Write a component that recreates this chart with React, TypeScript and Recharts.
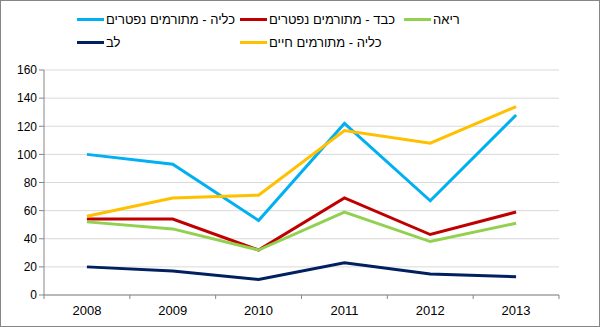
import React from "react";
import { LineChart, Line, XAxis, YAxis, CartesianGrid } from "recharts";

const years = ["2008", "2009", "2010", "2011", "2012", "2013"];
const kidneyDeceased = [100, 93, 53, 122, 67, 128];
const liverDeceased = [54, 54, 32, 69, 43, 59];
const lung = [52, 47, 32, 59, 38, 51];
const heart = [20, 17, 11, 23, 15, 13];
const kidneyLiving = [56, 69, 71, 117, 108, 134];
const yTicks = [0, 20, 40, 60, 80, 100, 120, 140, 160];

const series = [
  { key: "kidneyDeceased", name: "כליה - מתורמים נפטרים", color: "#00B0F0", values: kidneyDeceased },
  { key: "liverDeceased", name: "כבד - מתורמים נפטרים", color: "#C00000", values: liverDeceased },
  { key: "lung", name: "ריאה", color: "#92D050", values: lung },
  { key: "heart", name: "לב", color: "#002060", values: heart },
  { key: "kidneyLiving", name: "כליה - מתורמים חיים", color: "#FFC000", values: kidneyLiving },
];

const data = years.map((y, i) => {
  const row: any = { x: i, year: y };
  series.forEach((s) => (row[s.key] = s.values[i]));
  return row;
});

const xTicks: number[] = [];
for (let i = -0.5; i <= years.length - 0.5; i += 0.5) xTicks.push(i);

const FONT = "'Liberation Sans', Arial, sans-serif";

const XTick = (props: any) => {
  const { x, y, payload } = props;
  const v = payload.value;
  if (Math.abs(v - Math.round(v)) < 0.01) {
    return (
      <text x={x} y={y + 20} textAnchor="middle" fontSize={13} fontFamily={FONT} fill="#000">
        {years[Math.round(v)]}
      </text>
    );
  }
  return <line x1={x} y1={y} x2={x} y2={y + 4} stroke="#868686" strokeWidth={1} />;
};

const legendPos = [
  { left: 77, top: 19 },
  { left: 240, top: 19 },
  { left: 404, top: 19 },
  { left: 77, top: 42 },
  { left: 240, top: 42 },
];

const LegendBlock = () => (
  <div style={{ position: "absolute", left: 0, top: 0, width: 600, height: 60 }}>
    {series.map((s, i) => (
      <div
        key={s.key}
        style={{
          position: "absolute",
          left: legendPos[i].left,
          top: legendPos[i].top - 9,
          height: 18,
          display: "flex",
          alignItems: "center",
          whiteSpace: "nowrap",
        }}
      >
        <div style={{ width: 27, height: 3, background: s.color }} />
        <span
          style={{
            marginLeft: 2,
            fontFamily: FONT,
            fontSize: 13,
            color: "#000",
            direction: "rtl",
            unicodeBidi: "isolate",
          }}
        >
          {s.name}
        </span>
      </div>
    ))}
  </div>
);

export default function App() {
  return (
    <div
      style={{
        position: "absolute",
        left: 0,
        top: 0,
        width: 600,
        height: 327,
        background: "#fff",
        boxSizing: "border-box",
        border: "1px solid #868686",
        overflow: "hidden",
      }}
    >
      <div style={{ position: "absolute", left: -1, top: -1 }}>
        <LineChart width={600} height={327} data={data} margin={{ top: 70, right: 41, bottom: 10, left: 0 }}>
          <CartesianGrid horizontal vertical={false} stroke="#D9D9D9" />
          <XAxis
            dataKey="x"
            type="number"
            domain={[-0.5, years.length - 0.5]}
            ticks={xTicks}
            interval={0}
            tick={<XTick />}
            tickLine={false}
            tickSize={0}
            tickMargin={0}
            axisLine={{ stroke: "#868686" }}
            height={22}
          />
          <YAxis
            domain={[0, 160]}
            ticks={yTicks}
            interval={0}
            width={44}
            tickSize={5}
            tickLine={{ stroke: "#868686" }}
            axisLine={{ stroke: "#868686" }}
            tick={{ fontSize: 12, fontFamily: FONT, fill: "#000" }}
          />
          {series.map((s) => (
            <Line
              key={s.key}
              dataKey={s.key}
              name={s.name}
              stroke={s.color}
              strokeWidth={3}
              dot={false}
              activeDot={false}
              isAnimationActive={false}
              type="linear"
            />
          ))}
        </LineChart>
        <LegendBlock />
      </div>
    </div>
  );
}
